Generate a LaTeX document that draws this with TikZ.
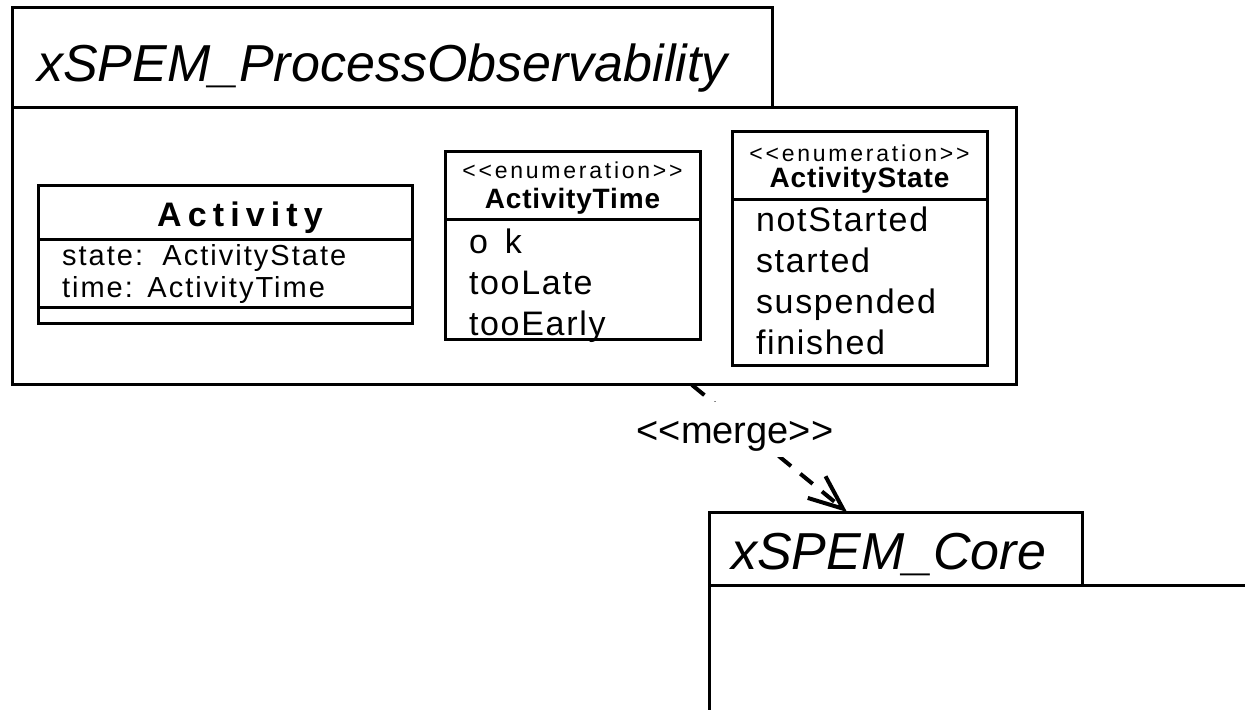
\documentclass[tikz,border=0pt]{standalone}
\usepackage{fontspec}
\setmainfont{Liberation Sans}[Ligatures=TeXOff]
\usepackage{tikz}
\usetikzlibrary{arrows.meta, positioning}

\newcommand{\pkgfont}{\fontsize{26}{30}\selectfont\itshape}
\newcommand{\clsfont}{\fontsize{17}{20}\selectfont\bfseries\addfontfeatures{LetterSpace=18}}
\newcommand{\attrfont}{\fontsize{14.5}{16}\selectfont\addfontfeatures{LetterSpace=7}}
\newcommand{\stereofont}{\fontsize{11.5}{12}\selectfont\addfontfeatures{LetterSpace=12}}
\newcommand{\enumfont}{\fontsize{14}{15}\selectfont\bfseries\addfontfeatures{LetterSpace=3}}
\newcommand{\litfont}{\fontsize{17}{20.5}\selectfont\addfontfeatures{LetterSpace=5}}
\newcommand{\mergefont}{\fontsize{19}{22}\selectfont}

\tikzstyle{pkgtab} = [draw, line width=1.5pt, anchor=north west, outer sep=0pt,
    inner ysep=0pt, align=left, font=\pkgfont, text depth=0pt]
\tikzstyle{pkgbody} = [draw, line width=1.5pt, anchor=north west, outer sep=0pt, inner sep=0pt]
\tikzstyle{classhead} = [draw, line width=1.5pt, anchor=north west, outer sep=0pt,
    inner sep=0pt, align=center]
\tikzstyle{classpart} = [draw, line width=1.5pt, outer sep=0pt, inner xsep=12pt,
    inner ysep=0pt, align=left]
\tikzstyle{mergeline} = [draw, line width=2pt, dash pattern=on 8pt off 6pt,
    -{Straight Barb[length=17pt, width=14pt]}]
\tikzstyle{mergelabel} = [fill=white, inner sep=0pt, font=\mergefont,
    text height=21pt, text depth=6.5pt]

\begin{document}
\begin{tikzpicture}[x=0.5pt, y=-0.5pt]
  \useasboundingbox (0,0) rectangle (1245,710);
  % package xSPEM_ProcessObservability
  \node [pkgtab, minimum height=50pt, inner xsep=12.5pt, text width=355pt, text height=24pt] (obstab) at (12,8) {xSPEM\_ProcessObservability};
  \node [pkgbody, below=0pt of obstab.south west, anchor=north west, minimum width=502pt, minimum height=138.5pt] (obsbody) {};
  % class Activity
  \node [classhead, minimum height=27pt, text width=187pt, font=\clsfont, text height=14pt, text depth=0pt] (acthead) at (38,186) {\hspace*{15pt}Activity};
  \node [classpart, below=0pt of acthead, text width=163pt, minimum height=34pt, font=\attrfont, text height=9pt, text depth=17pt] (actattr) {state:\ \ ActivityState\\time: ActivityTime};
  \node [classpart, below=0pt of actattr, text width=163pt, minimum height=8pt] (actops) {};
  % enumeration ActivityTime
  \node [classhead, minimum height=34pt, text width=127.5pt, font=\fontsize{13}{15}\selectfont, text height=8pt, text depth=15pt] (timehead) at (445,152) {{\stereofont <<enumeration>>}\\{\enumfont ActivityTime}};
  \node [classpart, below=0pt of timehead, text width=103.5pt, minimum height=60pt, font=\litfont, text height=12pt, text depth=38pt] (timelits) {o\ \,k\\tooLate\\tooEarly};
  % enumeration ActivityState
  \node [classhead, minimum height=34pt, text width=127.5pt, font=\fontsize{13}{13}\selectfont, text height=8pt, text depth=12pt] (statehead) at (732,132) {{\stereofont <<enumeration>>}\\{\enumfont ActivityState}};
  \node [classpart, below=0pt of statehead, text width=103.5pt, minimum height=83pt, font=\litfont, text height=12pt, text depth=63pt] (statelits) {notStarted\\started\\suspended\\finished};
  % package xSPEM_Core
  \node [pkgtab, minimum height=36.5pt, inner xsep=11pt, text width=164.5pt, text height=20.5pt] (coretab) at (709,512) {xSPEM\_Core};
  \node [pkgbody, below=0pt of coretab.south west, anchor=north west, minimum width=300pt, minimum height=100pt] (corebody) {};
  % merge dependency
  \draw [mergeline] ([xshift=340pt]obsbody.south west) -- node [mergelabel, pos=0.3, xshift=-1.75pt, yshift=-2.95pt] {<<merge>>} ([xshift=69pt]coretab.north west);
\end{tikzpicture}
\end{document}
